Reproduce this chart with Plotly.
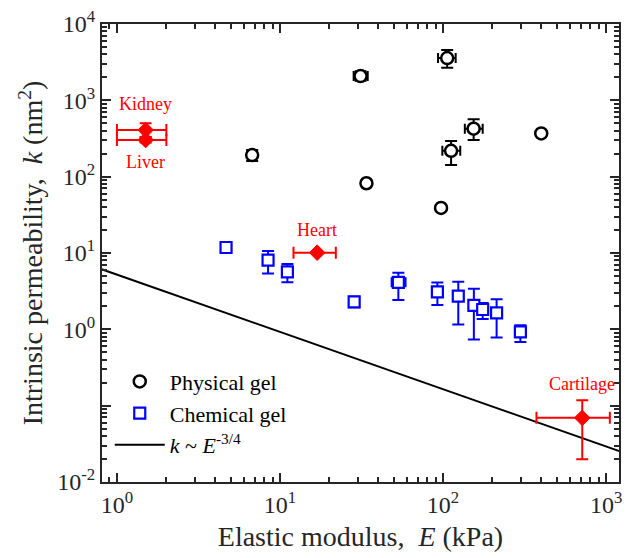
import math
import plotly.graph_objects as go

# ---------------- data ----------------
phys_E      = [6.75, 31.2, 106, 154, 112, 400, 33.9, 97.2]
phys_k      = [192, 2080, 3580, 425, 218, 369, 82, 39]
phys_k_hi   = [223, 2400, 4560, 564, 293, None, None, None]
phys_k_lo   = [160, 1800, 2670, 302, 142, None, None, None]
phys_E_hi   = [None, 34.5, 119.5, 175, 127.5, None, None, None]
phys_E_lo   = [None, 28.3, 93.2, 136, 99, None, None, None]

chem_E      = [4.67, 8.45, 11.1, 28.5, 53.2, 92.3, 124, 154.5, 175, 213, 298]
chem_k      = [11.8, 8.07, 5.67, 2.29, 4.13, 3.1, 2.72, 2.06, 1.82, 1.64, 0.927]
chem_k_hi   = [None, 10.6, 7.2, 2.67, 5.5, 4.12, 4.2, 3.4, 2.22, 2.47, 1.13]
chem_k_lo   = [None, 5.4, 4.13, 1.94, 2.42, 2.09, 1.16, 0.738, 1.37, 0.78, 0.685]
chem_E_hi   = [None, None, None, None, 58.9, None, None, None, None, None, None]
chem_E_lo   = [None, None, None, None, 48.4, None, None, None, None, None, None]

tissue_names = ["Kidney", "Liver", "Heart", "Cartilage"]
tissue_E     = [1.5, 1.5, 16.9, 714]
tissue_k     = [408, 302, 10.1, 0.0692]
tissue_k_hi  = [500, 330, None, 0.118]
tissue_k_lo  = [330, 280, None, 0.0199]
tissue_E_hi  = [2.01, 2.01, 22.0, 1054]
tissue_E_lo  = [1.0, 1.0, 12.1, 374]
tissue_lab_k = [900, 155, 20.0, 0.195]

line_E = [0.8, 1300]
line_k = [6.15, 0.0240]

y_tickvals = [1e-2, 1e-1, 1, 10, 100, 1e3, 1e4]
y_ticktext = ["10<sup>-2</sup>", "", "10<sup>0</sup>", "10<sup>1</sup>",
              "10<sup>2</sup>", "10<sup>3</sup>", "10<sup>4</sup>"]
x_tickvals = [1, 10, 100, 1000]
x_ticktext = ["10<sup>0</sup>", "10<sup>1</sup>", "10<sup>2</sup>", "10<sup>3</sup>"]


def plus(v, hi):
    return [None if h is None else h - c for c, h in zip(v, hi)]


def minus(v, lo):
    return [None if l is None else c - l for c, l in zip(v, lo)]


FONT = "Liberation Serif, Times New Roman, serif"
AX = "#262626"

fig = go.Figure()

fig.add_trace(go.Scatter(
    x=line_E, y=line_k, mode="lines", name="<i>k</i> ~ <i>E</i><sup>-3/4</sup>",
    line=dict(color="black", width=2), legendrank=3))

fig.add_trace(go.Scatter(
    x=phys_E, y=phys_k, mode="markers", name="Physical gel", legendrank=1,
    marker=dict(symbol="circle", size=12, color="white",
                line=dict(color="black", width=2.5)),
    error_y=dict(type="data", symmetric=False, array=plus(phys_k, phys_k_hi),
                 arrayminus=minus(phys_k, phys_k_lo), color="black",
                 thickness=2, width=6),
    error_x=dict(type="data", symmetric=False, array=plus(phys_E, phys_E_hi),
                 arrayminus=minus(phys_E, phys_E_lo), color="black",
                 thickness=2, width=5)))

fig.add_trace(go.Scatter(
    x=chem_E, y=chem_k, mode="markers", name="Chemical gel", legendrank=2,
    marker=dict(symbol="square", size=11, color="white",
                line=dict(color="blue", width=2.2)),
    error_y=dict(type="data", symmetric=False, array=plus(chem_k, chem_k_hi),
                 arrayminus=minus(chem_k, chem_k_lo), color="blue",
                 thickness=2, width=6),
    error_x=dict(type="data", symmetric=False, array=plus(chem_E, chem_E_hi),
                 arrayminus=minus(chem_E, chem_E_lo), color="blue",
                 thickness=2, width=5)))

fig.add_trace(go.Scatter(
    x=tissue_E, y=tissue_k, mode="markers", showlegend=False,
    marker=dict(symbol="diamond", size=12, color="red",
                line=dict(color="red", width=1)),
    error_y=dict(type="data", symmetric=False, array=plus(tissue_k, tissue_k_hi),
                 arrayminus=minus(tissue_k, tissue_k_lo), color="red",
                 thickness=2, width=6),
    error_x=dict(type="data", symmetric=False, array=plus(tissue_E, tissue_E_hi),
                 arrayminus=minus(tissue_E, tissue_E_lo), color="red",
                 thickness=2, width=6)))

for name, ex, ky in zip(tissue_names, tissue_E, tissue_lab_k):
    fig.add_annotation(x=math.log10(ex), y=math.log10(ky), xref="x", yref="y",
                       text=name, showarrow=False,
                       font=dict(family=FONT, size=18, color="red"),
                       xanchor="center", yanchor="middle")

minor_x = [m * 10 ** e for e in range(-1, 4) for m in range(2, 10)]
minor_y = [m * 10 ** e for e in range(-3, 5) for m in range(2, 10)]

axis_common = dict(
    type="log", showgrid=False, zeroline=False, showline=True, linecolor=AX,
    linewidth=2, mirror="allticks", ticks="inside", ticklen=9, tickwidth=1.5,
    tickcolor=AX, tickfont=dict(family=FONT, size=24, color=AX),
)

fig.update_xaxes(
    **axis_common, range=[-0.0915, 3.079], tickmode="array",
    tickvals=x_tickvals, ticktext=x_ticktext,
    minor=dict(tickmode="array", tickvals=minor_x, ticks="inside", ticklen=5,
               tickwidth=1.5, tickcolor=AX),
    title=dict(text="Elastic modulus,  <i>E</i> (kPa)", standoff=10,
               font=dict(family=FONT, size=28, color=AX)))

fig.update_yaxes(
    **axis_common, range=[-2, 4], tickmode="array",
    tickvals=y_tickvals, ticktext=y_ticktext,
    minor=dict(tickmode="array", tickvals=minor_y, ticks="inside", ticklen=5,
               tickwidth=1.5, tickcolor=AX),
    title=dict(text="Intrinsic permeability,  <i>k</i> (nm<sup>2</sup>)", standoff=6,
               font=dict(family=FONT, size=28, color=AX)))

fig.update_layout(
    width=627, height=558, margin=dict(l=102, r=5, t=24, b=76),
    paper_bgcolor="white", plot_bgcolor="white", showlegend=True,
    legend=dict(x=0.015, y=0.265, xanchor="left", yanchor="top",
                bgcolor="rgba(0,0,0,0)", font=dict(family=FONT, size=22, color="black"),
                itemwidth=50, tracegroupgap=0),
    font=dict(family=FONT),
)

fig.write_html("out.html")
